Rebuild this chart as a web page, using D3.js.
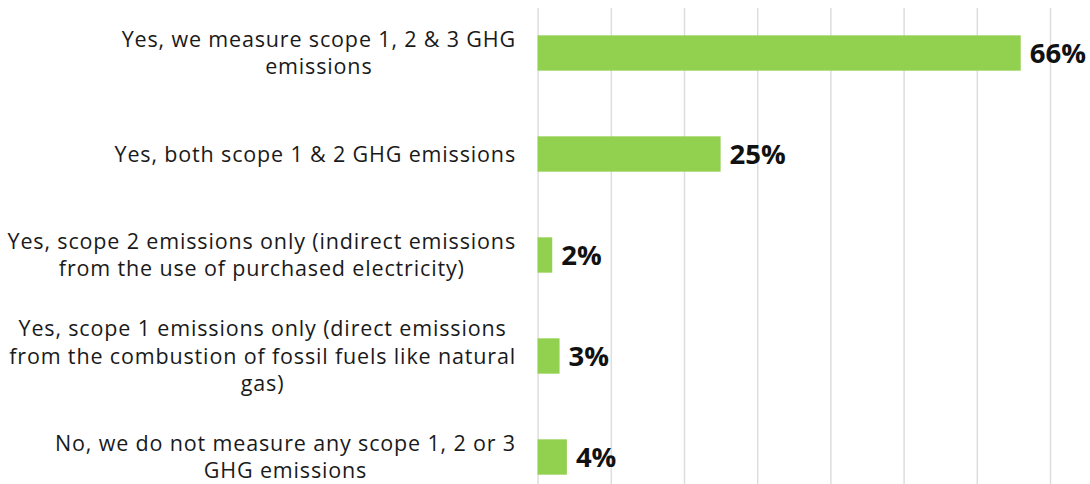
<!DOCTYPE html>
<html>
<head>
<meta charset="utf-8">
<script src="https://cdn.jsdelivr.net/npm/d3@7"></script>
<style>
  body { margin: 0; background: #fff; }
  svg { display: block; }
</style>
</head>
<body>
<svg id="chart"></svg>
<script>
document.addEventListener("DOMContentLoaded", function() {

    var width = 1090;
    var height = 484;

    // categories, line breaks as in the original
    var categories = [
        "Yes, we measure scope 1, 2 & 3 GHG\nemissions",
        "Yes, both scope 1 & 2 GHG emissions",
        "Yes, scope 2 emissions only (indirect emissions\nfrom the use of purchased electricity)",
        "Yes, scope 1 emissions only (direct emissions\nfrom the combustion of fossil fuels like natural\ngas)",
        "No, we do not measure any scope 1, 2 or 3\nGHG emissions"
    ];
    var values = [66, 25, 2, 3, 4];
    var gridTicks = [0, 10, 20, 30, 40, 50, 60, 70];

    var barColor = "#92d050";
    var gridColor = "#dddddd";
    var font = "'Open Sans', sans-serif";

    var svg = d3.select("#chart")
        .attr("width", width)
        .attr("height", height);

    var xScale = d3.scaleLinear()
        .domain([0, 70])
        .range([537.6, 1050]);

    var yScale = d3.scaleBand()
        .domain(categories)
        .range([2.5, 507.5])
        .paddingInner(0.65)
        .paddingOuter(0.325);

    // vertical gridlines
    var grid = d3.axisBottom(xScale)
        .tickValues(gridTicks)
        .tickSize(476)
        .tickFormat("");
    svg.append("g")
        .attr("transform", "translate(0,8)")
        .call(grid)
        .call(g => g.select(".domain").remove())
        .selectAll("line")
          .attr("stroke", gridColor)
          .attr("stroke-width", 1.5);

    // bars
    svg.append("g")
      .selectAll("rect")
      .data(values)
      .enter()
      .append("rect")
        .attr("x", xScale(0))
        .attr("y", (d, i) => yScale(categories[i]))
        .attr("width", d => xScale(d) - xScale(0))
        .attr("height", yScale.bandwidth())
        .attr("fill", barColor);

    // value labels
    svg.append("g")
      .selectAll("text")
      .data(values)
      .enter()
      .append("text")
        .attr("x", d => xScale(d) + 9)
        .attr("y", (d, i) => yScale(categories[i]) + yScale.bandwidth() / 2)
        .attr("dy", "0.36em")
        .attr("font-family", font)
        .attr("font-weight", 700)
        .attr("font-size", 27.5)
        .attr("fill", "#111")
        .text(d => d + "%");

    // category labels: one text per line, lines centred on each other,
    // widest line ending just left of the axis
    var lineHeight = 27.5;
    var labels = svg.append("g")
      .selectAll("g")
      .data(categories)
      .enter()
      .append("g")
        .attr("transform", d => `translate(0,${yScale(d) + yScale.bandwidth() / 2})`);

    labels.each(function(d) {
        var g = d3.select(this);
        var lines = d.split("\n");
        var texts = g.selectAll("text")
            .data(lines)
            .enter()
            .append("text")
              .attr("font-family", font)
              .attr("font-size", 21.5)
              .attr("letter-spacing", 0.85)
              .attr("fill", "#1a1a1a")
              .attr("text-anchor", "middle")
              .attr("y", (line, k) => (k - (lines.length - 1) / 2) * lineHeight)
              .attr("dy", "0.35em")
              .text(line => line);
        var maxW = d3.max(texts.nodes(), n => n.getComputedTextLength());
        texts.attr("x", 516 - maxW / 2);
    });
});
</script>
</body>
</html>
